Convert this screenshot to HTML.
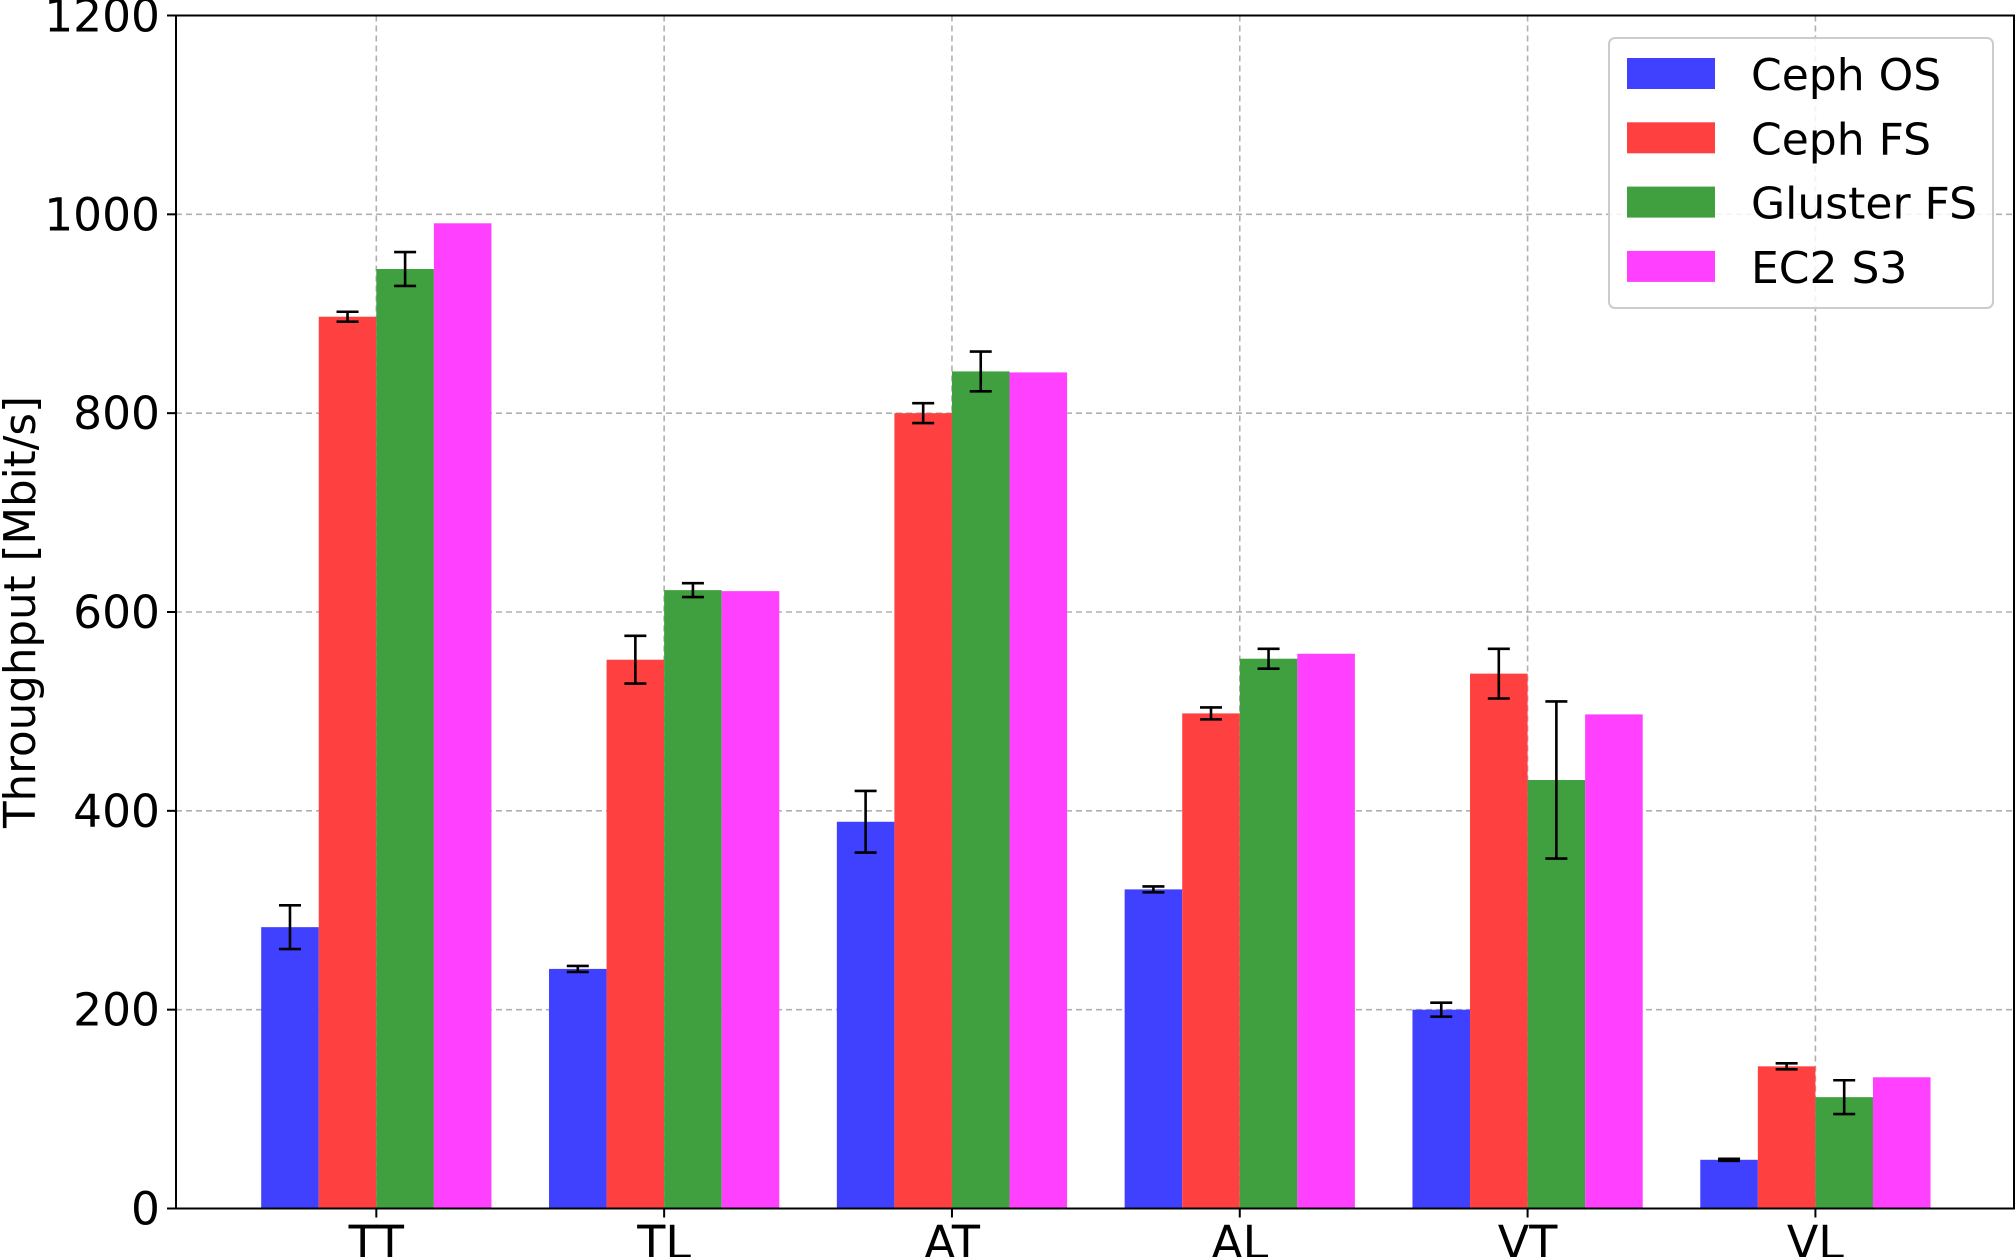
<!DOCTYPE html>
<html><head><meta charset="utf-8"><style>
html,body{margin:0;padding:0;background:#fff;width:2016px;height:1257px;overflow:hidden}
text{font-family:"DejaVu Sans","Liberation Sans",sans-serif}
</style></head><body>
<svg id="chart" width="2016" height="1257" xmlns="http://www.w3.org/2000/svg"></svg>
<script>
const categories=["TT","TL","AT","AL","VT","VL"];
const seriesNames=["Ceph OS","Ceph FS","Gluster FS","EC2 S3"];
const cephOS=[283,241,389,321,200,49];
const cephOSErr=[22,3,31,3,7,1];
const cephFS=[897,552,800,498,538,143];
const cephFSErr=[5,24,10,6,25,3];
const glusterFS=[945,622,842,553,431,112];
const glusterFSErr=[17,7,20,10,79,17];
const ec2S3=[991,621,841,558,497,132];
const yTicks=[0,200,400,600,800,1000,1200];

const series=[cephOS,cephFS,glusterFS,ec2S3];
const errs=[cephOSErr,cephFSErr,glusterFSErr,null];
const colors=["#4040ff","#ff4040","#40a040","#ff40ff"];
const L=176,R=2014,T=15.5,B=1208.5;
const xmin=-0.696,xmax=categories.length-1+0.69;
const X=v=>L+(v-xmin)/(xmax-xmin)*(R-L);
const Y=v=>B-(v/1200)*(B-T);
const svg=document.getElementById('chart');
const NS="http://www.w3.org/2000/svg";
function mk(tag,attrs,parent){const e=document.createElementNS(NS,tag);for(const k in attrs)e.setAttribute(k,attrs[k]);(parent||svg).appendChild(e);return e;}

const grid=mk('g',{});


yTicks.forEach(t=>{mk('line',{x1:L,x2:R,y1:Y(t),y2:Y(t),stroke:'#b0b0b0','stroke-width':1.6,'stroke-dasharray':'6,4'},grid);});
categories.forEach((c,i)=>{mk('line',{x1:X(i),x2:X(i),y1:T,y2:B,stroke:'#b0b0b0','stroke-width':1.6,'stroke-dasharray':'6,4'},grid);});

const bw=0.2;
series.forEach((s,si)=>{
  s.forEach((v,i)=>{
    const x0=X(i-0.4+si*bw),x1=X(i-0.4+(si+1)*bw);
    const r=mk('rect',{x:x0,y:Y(v),width:x1-x0,height:B-Y(v),fill:colors[si]});
    
    
  });
});
series.forEach((s,si)=>{
  if(!errs[si])return;
  s.forEach((v,i)=>{
    const cx=X(i-0.3+si*bw),e=errs[si][i];
    const g=mk('g',{stroke:'#000','stroke-width':2.6});
    
    
    mk('line',{x1:cx,x2:cx,y1:Y(v-e),y2:Y(v+e)},g);
    mk('line',{x1:cx-11,x2:cx+11,y1:Y(v-e),y2:Y(v-e)},g);
    mk('line',{x1:cx-11,x2:cx+11,y1:Y(v+e),y2:Y(v+e)},g);
  });
});

const frame=mk('rect',{x:L,y:T,width:R-L,height:B-T,fill:'none',stroke:'#000','stroke-width':2});



yTicks.forEach(t=>{
  mk('line',{x1:L-9,x2:L,y1:Y(t),y2:Y(t),stroke:'#000','stroke-width':2});
  const tx=mk('text',{x:L-16,y:Y(t)+16,'text-anchor':'end','font-size':45.5});
  tx.textContent=t;
  
  
});
categories.forEach((c,i)=>{
  mk('line',{x1:X(i),x2:X(i),y1:B,y2:B+9,stroke:'#000','stroke-width':2});
  const tx=mk('text',{x:X(i),y:B+50,'text-anchor':'middle','font-size':46});
  tx.textContent=c;
  
  
});
const yl=mk('text',{x:0,y:0,'text-anchor':'middle','font-size':43.5,transform:`translate(35,${(T+B)/2}) rotate(-90)`});
yl.textContent="Throughput [Mbit/s]";



const leg=mk('g',{});


mk('rect',{x:1609,y:38,width:384,height:270,rx:6,fill:'#fff','fill-opacity':0.85,stroke:'#cccccc','stroke-width':2},leg);
seriesNames.forEach((n,k)=>{
  const y=58+k*64.3;
  mk('rect',{x:1627,y:y,width:88,height:31,fill:colors[k]},leg);
  const tx=mk('text',{x:1751,y:y+32,'font-size':44},leg);
  tx.textContent=n;
  
  
});
</script>
</body></html>
